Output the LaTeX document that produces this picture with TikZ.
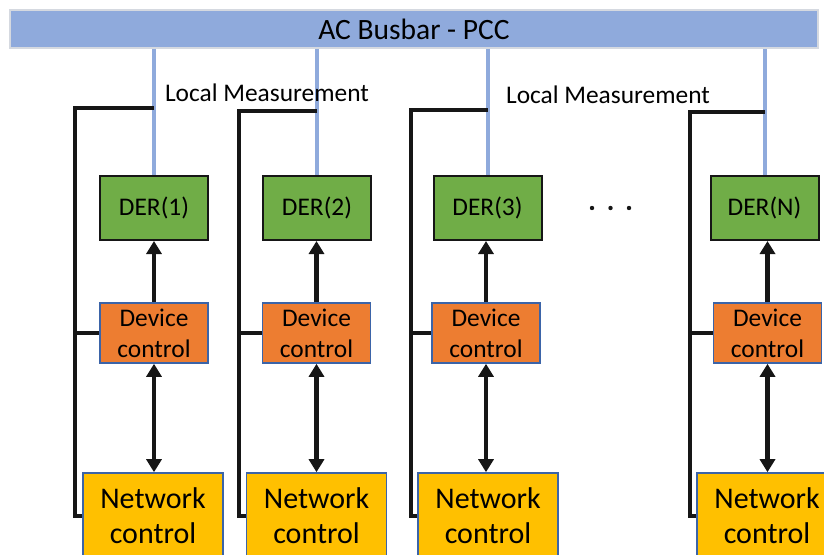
\documentclass[tikz,border=0pt]{standalone}
\usepackage{fontspec}
\setmainfont{Carlito}
\usetikzlibrary{arrows.meta}
\definecolor{busblue}{HTML}{8FAADC}
\definecolor{busframe}{HTML}{D5D9E0}
\definecolor{dergreen}{HTML}{70AD47}
\definecolor{devorange}{HTML}{ED7D31}
\definecolor{netyellow}{HTML}{FFC000}
\definecolor{frameblue}{HTML}{3B64A8}
\definecolor{ink}{HTML}{161616}
\begin{document}
\begin{tikzpicture}[x=1pt,y=-1pt,
  bus/.style={draw=busframe, line width=1.5pt, fill=busblue, minimum width=808pt,
    minimum height=38pt, inner sep=0pt, font=\fontsize{29.5}{34}\selectfont},
  derbox/.style={draw=ink, line width=2pt, fill=dergreen, minimum width=108pt,
    minimum height=64pt, inner sep=0pt, font=\fontsize{25.4}{31}\selectfont},
  devbox/.style={draw=frameblue, line width=1.6pt, fill=devorange, minimum width=108pt,
    minimum height=60pt, inner sep=0pt, align=center, font=\fontsize{25.4}{31}\selectfont},
  netbox/.style={draw=frameblue, line width=1.6pt, fill=netyellow, minimum width=140pt,
    minimum height=86pt, inner sep=0pt, align=center, font=\fontsize{30}{35}\selectfont},
  meas/.style={draw=busblue, line width=4pt},
  ctl/.style={draw=ink, line width=3.2pt},
  uparr/.style={draw=ink, line width=4.2pt, -{Triangle[length=13pt,width=15pt]}},
  duplex/.style={draw=ink, line width=4.2pt, {Triangle[length=13pt,width=15pt]}-{Triangle[length=13pt,width=15pt]}},
  lbl/.style={font=\fontsize{25.4}{31}\selectfont, inner sep=0pt}
]
\useasboundingbox (0,0) rectangle (824,554);
\clip (0,0) rectangle (824,554);

% busbar at the point of common coupling
\node[bus] (bus) at (414,29) {AC Busbar - PCC};

% one column per DER: name / DER x / device x / network x / bracket x / tap y / label
\foreach \n/\dx/\cx/\nx/\bx/\ty/\lab in
  {1/154/154/153/75/108/1, 2/317/316.5/316.5/239/111/2,
   3/487.5/486/488/411/110/3, N/764.5/767.5/767/690/112/N}{
  \node[derbox] (der\n) at (\dx,208) {DER(\lab)};
  \node[devbox] (dev\n) at (\cx,333) {Device\\control};
  \node[netbox] (net\n) at (\nx,516) {Network\\control};
  % local measurement taken from the busbar feeder
  \draw[meas] (der\n.north |- bus.south) -- (der\n.north);
  \coordinate (tap\n) at (\dx,\ty);
  \coordinate (knee\n) at (\bx,\ty);
  \draw[ctl] (tap\n) -- (knee\n) |- (net\n.west);
  \draw[ctl] (knee\n |- dev\n.west) -- (dev\n.west);
  % control signal paths
  \draw[uparr] (dev\n.north) -- (dev\n.north |- der\n.south);
  \draw[duplex] (dev\n.south) -- (dev\n.south |- net\n.north);
}

\node[lbl] (meas1) at (267,93) {Local Measurement};
\node[lbl] (meas2) at (608,95) {Local Measurement};

% ellipsis between the third and the last unit
\foreach \k/\px in {1/592,2/610.5,3/629}
  \fill[ink] (\px,208) circle (2.2pt);
\end{tikzpicture}
\end{document}
